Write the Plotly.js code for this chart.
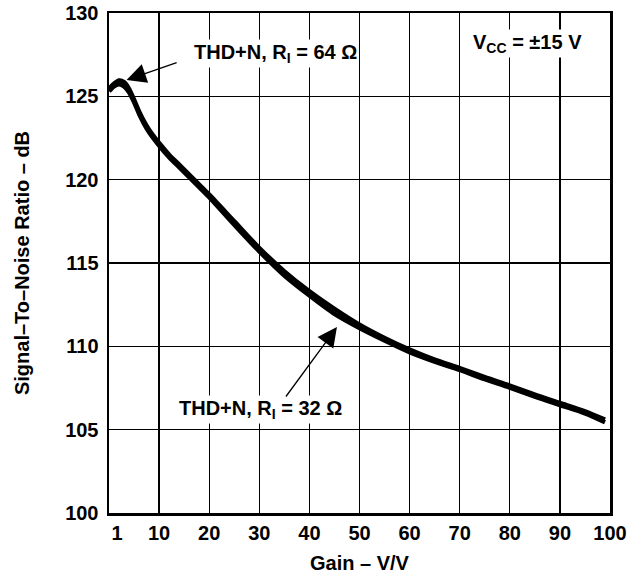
<!DOCTYPE html>
<html>
<head>
<meta charset="utf-8">
<script src="https://cdn.plot.ly/plotly-3.0.1.min.js"></script>
<style>html,body{margin:0;padding:0;background:#fff;}#chart{width:636px;height:577px;}</style>
</head>
<body>
<div id="chart"></div>
<script>
// Gain (V/V)
const gain64 = [0, 1, 2, 3, 4, 5, 6, 7, 8, 10, 12, 14, 16, 18, 20, 25, 30, 35, 40, 45, 50, 55, 60, 65, 70, 75, 80, 85, 90, 95, 99];
const snr64  = [125.45, 125.75, 125.95, 125.85, 125.45, 124.8, 124.1, 123.5, 123.0, 122.2, 121.5, 120.9, 120.3, 119.7, 119.1, 117.5, 115.9, 114.5, 113.3, 112.25, 111.3, 110.5, 109.8, 109.2, 108.7, 108.15, 107.65, 107.1, 106.6, 106.1, 105.6];
const gain32 = [0, 1, 2, 3, 4, 5, 6, 7, 8, 10, 12, 14, 16, 18, 20, 25, 30, 35, 40, 45, 50, 55, 60, 65, 70, 75, 80, 85, 90, 95, 99];
const snr32  = [125.3, 125.6, 125.72, 125.6, 125.25, 124.65, 123.95, 123.35, 122.85, 122.05, 121.35, 120.75, 120.15, 119.55, 118.95, 117.3, 115.7, 114.25, 113.05, 111.95, 111.1, 110.35, 109.65, 109.08, 108.58, 108.03, 107.52, 106.98, 106.48, 105.98, 105.45];

const xTickVals = [1.6, 10, 20, 30, 40, 50, 60, 70, 80, 90, 100];
const xTickText = ['1', '10', '20', '30', '40', '50', '60', '70', '80', '90', '100'];
const yTickVals = [100, 105, 110, 115, 120, 125, 130];

const FONT = 'Liberation Sans, Arial, Helvetica, sans-serif';

const traces = [
  {x: gain64, y: snr64, type: 'scatter', mode: 'lines', name: 'THD+N, RI = 64 Ω',
   line: {color: '#000', width: 4.5, shape: 'spline', smoothing: 0.8}, hoverinfo: 'skip'},
  {x: gain32, y: snr32, type: 'scatter', mode: 'lines', name: 'THD+N, RI = 32 Ω',
   line: {color: '#000', width: 4.5, shape: 'spline', smoothing: 0.8}, hoverinfo: 'skip'}
];

const layout = {
  width: 636, height: 577,
  margin: {l: 109, r: 26, t: 13, b: 64},
  paper_bgcolor: '#fff', plot_bgcolor: '#fff',
  showlegend: false,
  font: {family: FONT, size: 20, color: '#000'},
  xaxis: {
    range: [0, 100], fixedrange: true,
    tickmode: 'array', tickvals: xTickVals, ticktext: xTickText,
    showgrid: false, ticks: '', zeroline: false,
    minor: {tickmode: 'linear', tick0: 0, dtick: 10, showgrid: true, gridcolor: '#000', gridwidth: 1.4, ticks: ''},
    showline: true, linecolor: '#000', linewidth: 2.5, mirror: true,
    tickfont: {family: FONT, size: 20, weight: 'bold'},
    title: {text: '<b>Gain – V/V</b>', font: {family: FONT, size: 20}, standoff: 14}
  },
  yaxis: {
    range: [100, 130], fixedrange: true,
    tickmode: 'array', tickvals: yTickVals,
    showgrid: true, gridcolor: '#000', gridwidth: 1.4, ticks: '', zeroline: false,
    showline: true, linecolor: '#000', linewidth: 2.5, mirror: true,
    tickfont: {family: FONT, size: 20, weight: 'bold'},
    ticklabelstandoff: 4,
    title: {text: '<b>Signal–To–Noise Ratio – dB</b>', font: {family: FONT, size: 20}, standoff: 30}
  },
  annotations: [
    {x: 33.3, y: 127.6, xref: 'x', yref: 'y', text: '<b>THD+N, R<sub>I</sub> = 64 Ω</b>', showarrow: false,
     bgcolor: '#fff', font: {family: FONT, size: 20}, borderpad: 1},
    {x: 3.5, y: 125.98, ax: 13.8, ay: 127.06, xref: 'x', yref: 'y', axref: 'x', ayref: 'y', text: '',
     showarrow: true, arrowhead: 2, arrowsize: 3, arrowwidth: 1.3, arrowcolor: '#000', standoff: 0},
    {x: 30.3, y: 106.2, xref: 'x', yref: 'y', text: '<b>THD+N, R<sub>I</sub> = 32 Ω</b>', showarrow: false,
     bgcolor: '#fff', font: {family: FONT, size: 20}, borderpad: 1},
    {x: 45.5, y: 111.16, ax: 35.1, ay: 106.9, xref: 'x', yref: 'y', axref: 'x', ayref: 'y', text: '',
     showarrow: true, arrowhead: 2, arrowsize: 3, arrowwidth: 1.3, arrowcolor: '#000', standoff: 0},
    {x: 83.6, y: 128.2, xref: 'x', yref: 'y', text: '<b>V<sub>CC</sub> = ±15 V</b>', showarrow: false,
     bgcolor: '#fff', font: {family: FONT, size: 20}, borderpad: 1}
  ]
};

Plotly.newPlot('chart', traces, layout, {staticPlot: true, displayModeBar: false});
</script>
</body>
</html>
